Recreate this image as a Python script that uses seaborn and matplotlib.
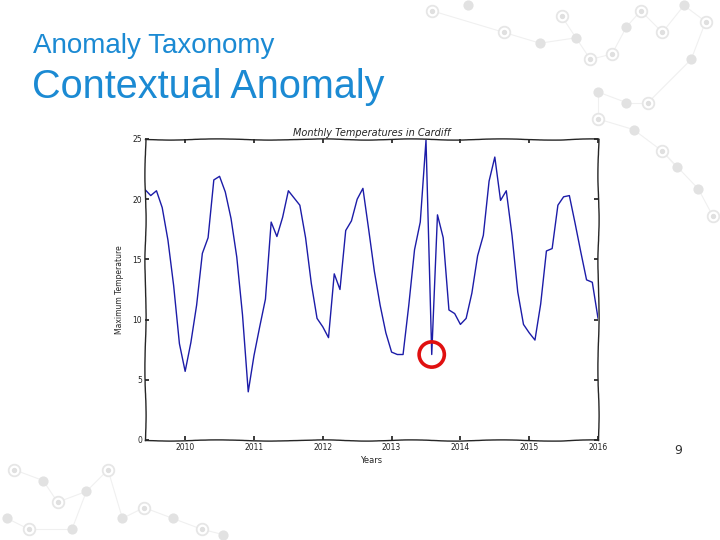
import matplotlib

matplotlib.use("Agg")
import matplotlib.pyplot as plt
import pandas as pd
import seaborn as sns

# monthly maximum temperatures, Jun 2009 .. Jan 2016
months = pd.date_range("2009-06-01", "2016-01-01", freq="MS")
max_temp = [
    20.8, 20.3, 20.7, 19.3, 16.6, 12.8, 8.0,              # 2009 Jun-Dec
    5.7, 8.1, 11.2, 15.5, 16.8, 21.6, 21.9, 20.6, 18.4, 15.2, 10.4, 4.0,   # 2010
    7.0, 9.4, 11.7, 18.1, 16.9, 18.5, 20.7, 20.1, 19.5, 16.8, 13.0, 10.1,  # 2011
    9.4, 8.5, 13.8, 12.5, 17.4, 18.2, 20.0, 20.9, 17.5, 14.0, 11.2, 8.9,   # 2012
    7.3, 7.1, 7.1, 11.2, 15.8, 18.1, 24.9, 7.1, 18.7, 16.8, 10.8, 10.5,    # 2013
    9.6, 10.1, 12.2, 15.3, 17.0, 21.5, 23.5, 19.9, 20.7, 17.0, 12.3, 9.6,  # 2014
    8.9, 8.3, 11.3, 15.7, 15.9, 19.5, 20.2, 20.3, 18.0, 15.6, 13.3, 13.1,  # 2015
    10.1,                                                  # 2016 Jan
]
anomaly_month = "2013-08-01"
year_ticks = [2010, 2011, 2012, 2013, 2014, 2015, 2016]
temp_ticks = [0, 5, 10, 15, 20, 25]

# decorative network in the slide corners (figure fraction coords)
deco_nodes_x = [0.60, 0.65, 0.70, 0.75, 0.78, 0.80, 0.82, 0.85, 0.87, 0.89, 0.92,
                0.95, 0.98, 0.96, 0.90, 0.87, 0.83, 0.83, 0.88, 0.92, 0.97, 0.99,
                0.94, 0.02, 0.06, 0.08, 0.12, 0.15, 0.17, 0.20, 0.24, 0.28, 0.31,
                0.01, 0.04, 0.10]
deco_nodes_y = [0.98, 0.99, 0.94, 0.92, 0.97, 0.93, 0.89, 0.90, 0.95, 0.98, 0.94,
                0.99, 0.96, 0.89, 0.81, 0.81, 0.83, 0.78, 0.76, 0.72, 0.65, 0.60,
                0.69, 0.13, 0.11, 0.07, 0.09, 0.13, 0.04, 0.06, 0.04, 0.02, 0.01,
                0.04, 0.02, 0.02]
deco_ring = [1, 0, 1, 0, 1, 0, 1, 1, 0, 1, 1, 0, 1, 0, 1, 0, 0, 1, 0, 1, 0, 1,
             0, 1, 0, 1, 0, 1, 0, 1, 0, 1, 0, 0, 1, 0]
deco_edges = [(0, 2), (2, 3), (3, 5), (4, 5), (5, 6), (6, 7), (7, 8), (8, 9),
              (9, 10), (10, 11), (11, 12), (12, 13), (13, 14), (14, 15), (15, 16),
              (16, 17), (17, 18), (18, 19), (19, 20), (20, 21), (19, 22),
              (23, 24), (24, 25), (25, 26), (26, 27), (27, 28), (28, 29),
              (29, 30), (30, 31), (31, 32), (33, 34), (34, 35), (26, 35)]

df = pd.DataFrame({"month": months, "temp": max_temp})
df["year"] = df["month"].dt.year + (df["month"].dt.month - 1) / 12

sns.set_theme(style="ticks", rc={
    "xtick.direction": "in", "ytick.direction": "in",
    "xtick.top": True, "ytick.right": True,
    "xtick.major.size": 3, "ytick.major.size": 3,
})
plt.rcParams["font.family"] = ["DejaVu Sans"]

fig = plt.figure(figsize=(7.2, 5.4), dpi=100)
fig.patch.set_facecolor("white")

# background decoration
deco = fig.add_axes([0, 0, 1, 1], zorder=0)
deco.set_xlim(0, 1)
deco.set_ylim(0, 1)
deco.axis("off")
for a, b in deco_edges:
    deco.plot([deco_nodes_x[a], deco_nodes_x[b]], [deco_nodes_y[a], deco_nodes_y[b]],
              color="#f0f0f0", lw=0.8, zorder=0)
rx = [x for x, r in zip(deco_nodes_x, deco_ring) if r]
ry = [y for y, r in zip(deco_nodes_y, deco_ring) if r]
dx = [x for x, r in zip(deco_nodes_x, deco_ring) if not r]
dy = [y for y, r in zip(deco_nodes_y, deco_ring) if not r]
deco.scatter(rx, ry, s=70, facecolor="white", edgecolor="#e6e6e6", lw=1.3, zorder=1)
deco.scatter(rx, ry, s=8, color="#e0e0e0", zorder=2)
deco.scatter(dx, dy, s=40, color="#e2e2e2", zorder=2)

ax = fig.add_axes([0.2014, 0.1852, 0.6292, 0.5574], zorder=2)
ax.set_facecolor("white")
sns.lineplot(data=df, x="year", y="temp", ax=ax, color="#1c1ca8", lw=1.0)

anom = df[df["month"] == anomaly_month]
ax.scatter(anom["year"], anom["temp"], s=330, facecolor="none",
           edgecolor="#e01010", lw=2.6, zorder=5)

ax.set_xlim(df["year"].iloc[0], df["year"].iloc[-1])
ax.set_ylim(0, 25)
ax.set_xticks(year_ticks)
ax.set_xticklabels([str(y) for y in year_ticks])
ax.set_yticks(temp_ticks)
ax.tick_params(axis="both", labelsize=5.5, pad=2, colors="#222222")
ax.set_xlabel("Years", fontsize=6, labelpad=3)
ax.set_ylabel("Maximum Temperature", fontsize=5.5, labelpad=6)
ax.set_title("Monthly Temperatures in Cardiff", fontsize=7, style="italic", pad=2)
for sp in ax.spines.values():
    sp.set_linewidth(1.0)
    sp.set_sketch_params(scale=0.6, length=120, randomness=3)

# slide text
fig.text(0.046, 0.915, "Anomaly Taxonomy", fontsize=20, color="#1b8ad3",
         family=["Liberation Sans"], va="center")
fig.text(0.044, 0.838, "Contextual Anomaly", fontsize=28.5, color="#1b8ad3",
         family=["Liberation Sans"], va="center")
fig.text(0.936, 0.165, "9", fontsize=9, color="#333333", va="center")

fig.savefig("out.png", dpi=100)
